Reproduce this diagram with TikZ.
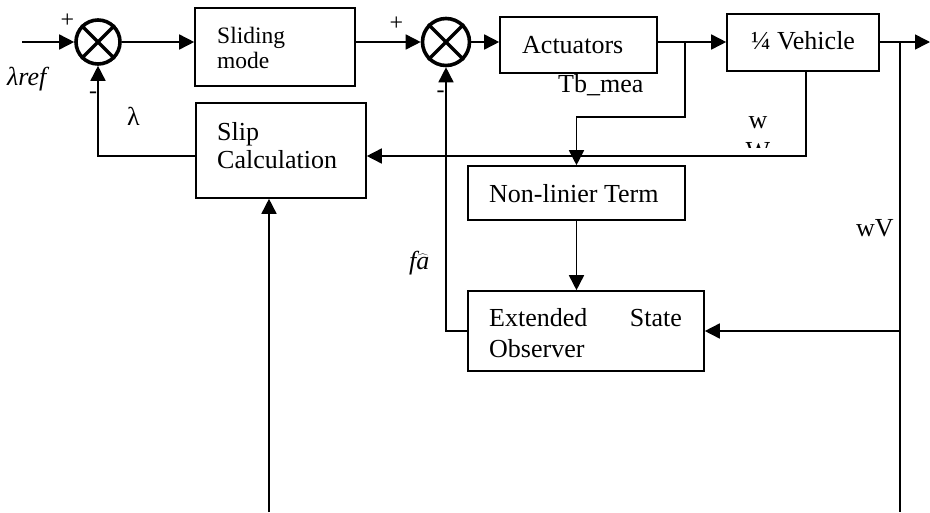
\documentclass[tikz,border=0pt]{standalone}
\usepackage{fontspec}
\setmainfont{Liberation Serif}
\usetikzlibrary{arrows.meta}
\begin{document}
\begin{tikzpicture}[x=1pt,y=-1pt,
  box/.style={draw,line width=1.6pt,inner sep=0pt},
  sumnode/.style={circle,draw,line width=3.6pt,inner sep=0pt},
  conn/.style={line width=1.6pt},
  arr/.style={conn,-{Triangle[length=15pt,width=15pt]}},
  txt/.style={inner sep=0pt,font=\fontsize{26}{31}\selectfont},
  small/.style={inner sep=0pt,font=\fontsize{23.5}{28}\selectfont},
  sign/.style={inner sep=0pt,font=\fontsize{24}{28}\selectfont}]
\useasboundingbox (0,0) rectangle (930,512);

% summing junctions
\node[sumnode,minimum size=44pt] (s1) at (98,42) {};
\node[sumnode,minimum size=47pt] (s2) at (446,42) {};
\foreach \s in {s1,s2}{
  \draw[line width=3.2pt] (\s.45) -- (\s.225) (\s.135) -- (\s.315);
}

% blocks
\node[box,minimum width=160pt,minimum height=78pt] (slide) at (275,47) {};
\node[box,minimum width=170pt,minimum height=95pt] (slip) at (281,150.5) {};
\node[box,minimum width=157pt,minimum height=56pt] (act) at (578.5,45) {};
\node[box,minimum width=152pt,minimum height=57pt] (veh) at (803,42.5) {};
\node[box,minimum width=217pt,minimum height=54pt] (nl) at (576.5,193) {};
\node[box,minimum width=236pt,minimum height=80pt] (eso) at (586,331) {};

% block texts
\node[small,anchor=base west] (tslide1) at (217,43) {Sliding};
\node[small,anchor=base west] (tslide2) at (217,68) {mode};
\node[txt,anchor=base west] (tslip1) at (217,140) {Slip};
\node[txt,anchor=base west] (tslip2) at (217,168) {Calculation};
\node[txt,anchor=base west] (tact) at (522,53) {Actuators};
\node[txt,anchor=base] (tveh) at (803,49) {¼ Vehicle};
\node[txt,anchor=base west] (tnl) at (489,202) {Non-linier Term};
\node[txt,anchor=base west] (teso1) at (489,326) {Extended};
\node[txt,anchor=base east] (teso2) at (682,326) {State};
\node[txt,anchor=base west] (teso3) at (489,357) {Observer};

% signal labels
\node[txt,anchor=base west] (lref) at (7,85) {\itshape λref};
\node[txt,anchor=base west] (llam) at (127,125) {λ};
\node[sign] (p1) at (67.5,21) {+};
\node[sign] (m1) at (93,95) {-};
\node[sign] (p2) at (396.5,24) {+};
\node[sign] (m2) at (440.5,94) {-};
\node[txt,anchor=base west] (ltb) at (558,92) {Tb\_mea};
\node[txt,anchor=base] (lw) at (758,128) {w};
\begin{scope}
  \clip (735,100) rectangle (785,147);
  \node[txt,anchor=base] (lW) at (758,159) {W};
\end{scope}
\node[txt,anchor=base west] (lwv) at (856,236) {wV};
\node[txt,anchor=base west] (lfa) at (409,269) {\itshape f$\widehat{\textit{a}}$};

% connectors
\coordinate (in) at (22,42);
\draw[arr] (in) -- (s1.west);
\draw[arr] (s1.east) -- (s1.east -| slide.west);
\draw[arr] (slide.east |- s2.west) -- (s2.west);
\draw[arr] (s2.east) -- (s2.east -| act.west);
\draw[arr] (act.east |- s2.east) -- (veh.west |- s2.east);
\coordinate (out) at (930,42);
\draw[arr] (veh.east |- s2.east) -- (out);
\coordinate (br) at (900,42);
\coordinate (bot2) at (900,512);
\draw[conn] (br) -- (bot2);
\draw[arr] (eso.east -| br) -- (eso.east);
\coordinate (tb) at (685,42);
\coordinate (tbk) at (685,117);
\draw[arr] (tb) -- (tbk) -| (nl.north);
\coordinate (vk) at (806,156);
\draw[arr] (vk |- veh.south) -- (vk) -- (vk -| slip.east);
\draw[arr] (slip.west |- vk) -| (s1.south);
\draw[arr] (nl.south) -- (nl.south |- eso.north);
\draw[arr] (eso.west) -| (s2.south);
\coordinate (bot1) at (269,512);
\draw[arr] (bot1) -- (bot1 |- slip.south);
\end{tikzpicture}
\end{document}
